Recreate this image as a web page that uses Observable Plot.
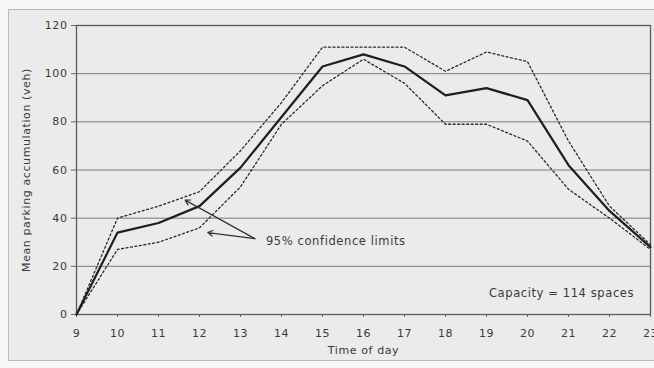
<!DOCTYPE html>
<html>
<head>
<meta charset="utf-8">
<script src="https://cdn.jsdelivr.net/npm/d3@7"></script>
<script src="https://cdn.jsdelivr.net/npm/@observablehq/plot@0.6"></script>
<style>
  html, body { margin: 0; padding: 0; background: #f6f6f6; }
  #wrap { position: relative; width: 654px; height: 368px; overflow: hidden; }
  #panel { position: absolute; left: 8px; top: 9px; width: 660px; height: 352px;
           border: 1px solid #b9b9b9; background: #ebebeb; box-sizing: border-box; }
  #chart { position: absolute; left: 0; top: 0; }
  #chart svg { background: transparent; }
  #chart svg text { letter-spacing: 0.6px; }
</style>
</head>
<body>
<div id="wrap"><div id="panel"></div><div id="chart"></div></div>
<script>
const hours = [9, 10, 11, 12, 13, 14, 15, 16, 17, 18, 19, 20, 21, 22, 23];
const meanAcc = [0, 34, 38, 45, 61, 82, 103, 108, 103, 91, 94, 89, 62, 43, 28];
const upperLimit = [0, 40, 45, 51, 68, 88, 111, 111, 111, 101, 109, 105, 72, 45, 29];
const lowerLimit = [0, 27, 30, 36, 53, 79, 95, 106, 96, 79, 79, 72, 52, 40, 27];
const yTicks = [0, 20, 40, 60, 80, 100, 120];

const xLabel = "Time of day";
const yLabel = "Mean parking accumulation (veh)";
const noteText = "95% confidence limits";
const noteAt = [{x: 13.62, y: 30.5}];
const arrowTail = {x: 13.35, y: 31.5};
const arrowTips = [{x: 11.65, y: 47.5}, {x: 12.2, y: 34}];
const capacityText = "Capacity = 114 spaces";
const capacityAt = [{x: 22.6, y: 8.6}];

const rows = (vals) => hours.map((h, i) => ({h, v: vals[i]}));
const arrows = arrowTips.map(t => ({x1: arrowTail.x, y1: arrowTail.y, x2: t.x, y2: t.y}));

const ink = "#2a2a2a";
const font = "DejaVu Sans, Verdana, sans-serif";

const chart = Plot.plot({
  width: 654,
  height: 368,
  marginLeft: 76,
  marginRight: 4,
  marginTop: 25,
  marginBottom: 54,
  style: {fontFamily: font, fontSize: "11px", color: "#3a3a3a", background: "transparent"},
  x: {domain: [9, 23], label: null},
  y: {domain: [0, 120], label: null},
  marks: [
    Plot.gridY(yTicks, {stroke: "#7a7a7a", strokeOpacity: 1, strokeWidth: 1}),
    Plot.frame({stroke: "#5a5a5a", strokeWidth: 1.3}),
    Plot.axisX(hours, {tickSize: 3, tickPadding: 12, tickFormat: d => String(d), stroke: "#666", fill: "#3a3a3a", fontSize: 11, label: null}),
    Plot.axisY(yTicks, {tickSize: 5, tickPadding: 4, stroke: "#666", fill: "#3a3a3a", fontSize: 11, label: null}),
    Plot.text([xLabel], {frameAnchor: "bottom", dy: 39, fill: "#3a3a3a", fontSize: 11}),
    Plot.text([yLabel], {frameAnchor: "left", textAnchor: "middle", rotate: -90, dx: -50, fill: "#3a3a3a", fontSize: 11}),
    Plot.line(rows(upperLimit), {x: "h", y: "v", stroke: ink, strokeWidth: 1.3, strokeDasharray: "2,2.5"}),
    Plot.line(rows(lowerLimit), {x: "h", y: "v", stroke: ink, strokeWidth: 1.3, strokeDasharray: "2,2.5"}),
    Plot.line(rows(meanAcc), {x: "h", y: "v", stroke: "#1e1e1e", strokeWidth: 2.2}),
    Plot.arrow(arrows, {x1: "x1", y1: "y1", x2: "x2", y2: "y2", stroke: "#333", strokeWidth: 1.2, headLength: 7}),
    Plot.text(noteAt, {x: "x", y: "y", text: () => noteText, textAnchor: "start", fill: "#3a3a3a", fontSize: 11.5}),
    Plot.text(capacityAt, {x: "x", y: "y", text: () => capacityText, textAnchor: "end", fill: "#3a3a3a", fontSize: 11.5})
  ]
});
document.getElementById("chart").appendChild(chart);
</script>
</body>
</html>
